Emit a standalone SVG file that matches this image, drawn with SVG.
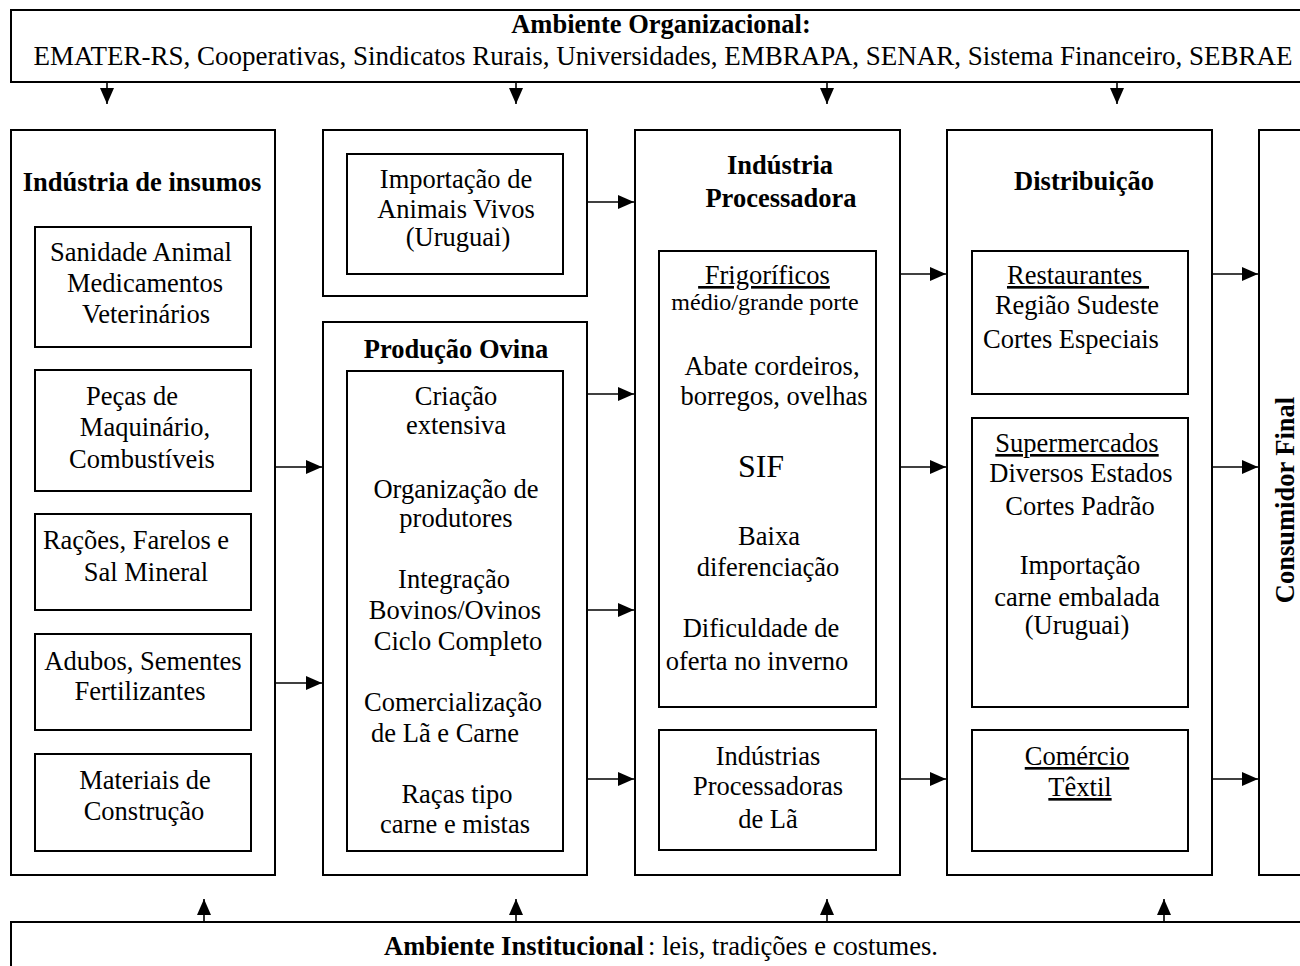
<svg xmlns="http://www.w3.org/2000/svg" width="1300" height="966" viewBox="0 0 1300 966">
<style>
  .box{fill:#fff;stroke:#000;stroke-width:2}
  .t{font-family:"Liberation Serif","Times New Roman",serif;font-size:26.5px;fill:#000;text-anchor:middle}
  .b{font-weight:bold}
  .s{font-size:24px}
  .sif{font-size:32px}
  .u{text-decoration:underline}
  .c{fill:none;stroke:#000;stroke-width:1.6}
</style>
<defs>
  <marker id="ah" markerUnits="userSpaceOnUse" markerWidth="16" markerHeight="14" refX="16" refY="7" orient="auto">
    <path d="M0,0 L16,7 L0,14 z" fill="#000"/>
  </marker>
</defs>
<rect width="1300" height="966" fill="#fff"/>

<g id="ambiente-organizacional">
  <rect class="box" x="11" y="10" width="1310" height="72"/>
  <text class="t b" x="661" y="33">Ambiente Organizacional:</text>
  <text class="t" x="663" y="65" style="font-size:27px">EMATER-RS, Cooperativas, Sindicatos Rurais, Universidades, EMBRAPA, SENAR, Sistema Financeiro, SEBRAE</text>
</g>

<g id="industria-insumos">
  <rect class="box" x="11" y="130" width="264" height="745"/>
  <text class="t b" x="142" y="191">Indústria de insumos</text>
  <g id="sanidade">
    <rect class="box" x="35" y="227" width="216" height="120"/>
    <text class="t" x="141" y="261">Sanidade Animal</text>
    <text class="t" x="145" y="292">Medicamentos</text>
    <text class="t" x="146" y="323">Veterinários</text>
  </g>
  <g id="pecas">
    <rect class="box" x="35" y="370" width="216" height="121"/>
    <text class="t" x="132" y="405">Peças de</text>
    <text class="t" x="145" y="436">Maquinário,</text>
    <text class="t" x="142" y="468">Combustíveis</text>
  </g>
  <g id="racoes">
    <rect class="box" x="35" y="514" width="216" height="96"/>
    <text class="t" x="136" y="549">Rações, Farelos e</text>
    <text class="t" x="146" y="581">Sal Mineral</text>
  </g>
  <g id="adubos">
    <rect class="box" x="35" y="634" width="216" height="96"/>
    <text class="t" x="143" y="670">Adubos, Sementes</text>
    <text class="t" x="140" y="700">Fertilizantes</text>
  </g>
  <g id="materiais">
    <rect class="box" x="35" y="754" width="216" height="97"/>
    <text class="t" x="145" y="789">Materiais de</text>
    <text class="t" x="144" y="820">Construção</text>
  </g>
</g>

<g id="importacao-animais">
  <rect class="box" x="323" y="130" width="264" height="166"/>
  <rect class="box" x="347" y="154" width="216" height="120"/>
  <text class="t" x="456" y="188">Importação de</text>
  <text class="t" x="456" y="218">Animais Vivos</text>
  <text class="t" x="458" y="246">(Uruguai)</text>
</g>

<g id="producao-ovina">
  <rect class="box" x="323" y="322" width="264" height="553"/>
  <text class="t b" x="456" y="358">Produção Ovina</text>
  <rect class="box" x="347" y="371" width="216" height="480"/>
  <text class="t" x="456" y="405">Criação</text>
  <text class="t" x="456" y="434">extensiva</text>
  <text class="t" x="456" y="498">Organização de</text>
  <text class="t" x="456" y="527">produtores</text>
  <text class="t" x="454" y="588">Integração</text>
  <text class="t" x="455" y="619">Bovinos/Ovinos</text>
  <text class="t" x="458" y="650">Ciclo Completo</text>
  <text class="t" x="453" y="711">Comercialização</text>
  <text class="t" x="445" y="742">de Lã e Carne</text>
  <text class="t" x="457" y="803">Raças tipo</text>
  <text class="t" x="455" y="833">carne e mistas</text>
</g>

<g id="industria-processadora">
  <rect class="box" x="635" y="130" width="265" height="745"/>
  <text class="t b" x="780" y="174">Indústria</text>
  <text class="t b" x="781" y="207">Processadora</text>
  <g id="frigorificos">
    <rect class="box" x="659" y="251" width="217" height="456"/>
    <text class="t u" x="764" y="284">&#160;Frigoríficos</text>
    <text class="t s" x="765" y="310">médio/grande porte</text>
    <text class="t" x="772" y="375">Abate cordeiros,</text>
    <text class="t" x="774" y="405">borregos, ovelhas</text>
    <text class="t sif" x="761" y="477">SIF</text>
    <text class="t" x="769" y="545">Baixa</text>
    <text class="t" x="768" y="576">diferenciação</text>
    <text class="t" x="761" y="637">Dificuldade de</text>
    <text class="t" x="757" y="670">oferta no inverno</text>
  </g>
  <g id="industrias-la">
    <rect class="box" x="659" y="730" width="217" height="120"/>
    <text class="t" x="768" y="765">Indústrias</text>
    <text class="t" x="768" y="795">Processadoras</text>
    <text class="t" x="768" y="828">de Lã</text>
  </g>
</g>

<g id="distribuicao">
  <rect class="box" x="947" y="130" width="265" height="745"/>
  <text class="t b" x="1084" y="190">Distribuição</text>
  <g id="restaurantes">
    <rect class="box" x="972" y="251" width="216" height="143"/>
    <text class="t u" x="1078" y="284">Restaurantes&#160;</text>
    <text class="t" x="1077" y="314">Região Sudeste</text>
    <text class="t" x="1071" y="348">Cortes Especiais</text>
  </g>
  <g id="supermercados">
    <rect class="box" x="972" y="418" width="216" height="289"/>
    <text class="t u" x="1077" y="452">Supermercados</text>
    <text class="t" x="1081" y="482">Diversos Estados</text>
    <text class="t" x="1080" y="515">Cortes Padrão</text>
    <text class="t" x="1080" y="574">Importação</text>
    <text class="t" x="1077" y="606">carne embalada</text>
    <text class="t" x="1077" y="634">(Uruguai)</text>
  </g>
  <g id="comercio-textil">
    <rect class="box" x="972" y="730" width="216" height="121"/>
    <text class="t u" x="1077" y="765">Comércio</text>
    <text class="t u" x="1080" y="796">Têxtil</text>
  </g>
</g>

<g id="consumidor-final">
  <rect class="box" x="1259" y="130" width="60" height="745"/>
  <text class="t b" transform="translate(1294,500) rotate(-90)">Consumidor Final</text>
</g>

<g id="ambiente-institucional">
  <rect class="box" x="11" y="922" width="1310" height="60"/>
  <text class="t" x="661" y="955"><tspan class="b">Ambiente Institucional</tspan><tspan dx="4">: leis, tradições e costumes.</tspan></text>
</g>

<g id="connectors">
  <line class="c" x1="107" y1="82" x2="107" y2="104" marker-end="url(#ah)"/>
  <line class="c" x1="516" y1="82" x2="516" y2="104" marker-end="url(#ah)"/>
  <line class="c" x1="827" y1="82" x2="827" y2="104" marker-end="url(#ah)"/>
  <line class="c" x1="1117" y1="82" x2="1117" y2="104" marker-end="url(#ah)"/>

  <line class="c" x1="204" y1="922" x2="204" y2="899" marker-end="url(#ah)"/>
  <line class="c" x1="516" y1="922" x2="516" y2="899" marker-end="url(#ah)"/>
  <line class="c" x1="827" y1="922" x2="827" y2="899" marker-end="url(#ah)"/>
  <line class="c" x1="1164" y1="922" x2="1164" y2="899" marker-end="url(#ah)"/>

  <line class="c" x1="275" y1="467" x2="322" y2="467" marker-end="url(#ah)"/>
  <line class="c" x1="275" y1="683" x2="322" y2="683" marker-end="url(#ah)"/>

  <line class="c" x1="587" y1="202" x2="634" y2="202" marker-end="url(#ah)"/>
  <line class="c" x1="587" y1="394" x2="634" y2="394" marker-end="url(#ah)"/>
  <line class="c" x1="587" y1="610" x2="634" y2="610" marker-end="url(#ah)"/>
  <line class="c" x1="587" y1="779" x2="634" y2="779" marker-end="url(#ah)"/>

  <line class="c" x1="900" y1="274" x2="946" y2="274" marker-end="url(#ah)"/>
  <line class="c" x1="900" y1="467" x2="946" y2="467" marker-end="url(#ah)"/>
  <line class="c" x1="900" y1="779" x2="946" y2="779" marker-end="url(#ah)"/>

  <line class="c" x1="1212" y1="274" x2="1258" y2="274" marker-end="url(#ah)"/>
  <line class="c" x1="1212" y1="467" x2="1258" y2="467" marker-end="url(#ah)"/>
  <line class="c" x1="1212" y1="779" x2="1258" y2="779" marker-end="url(#ah)"/>
</g>
</svg>
